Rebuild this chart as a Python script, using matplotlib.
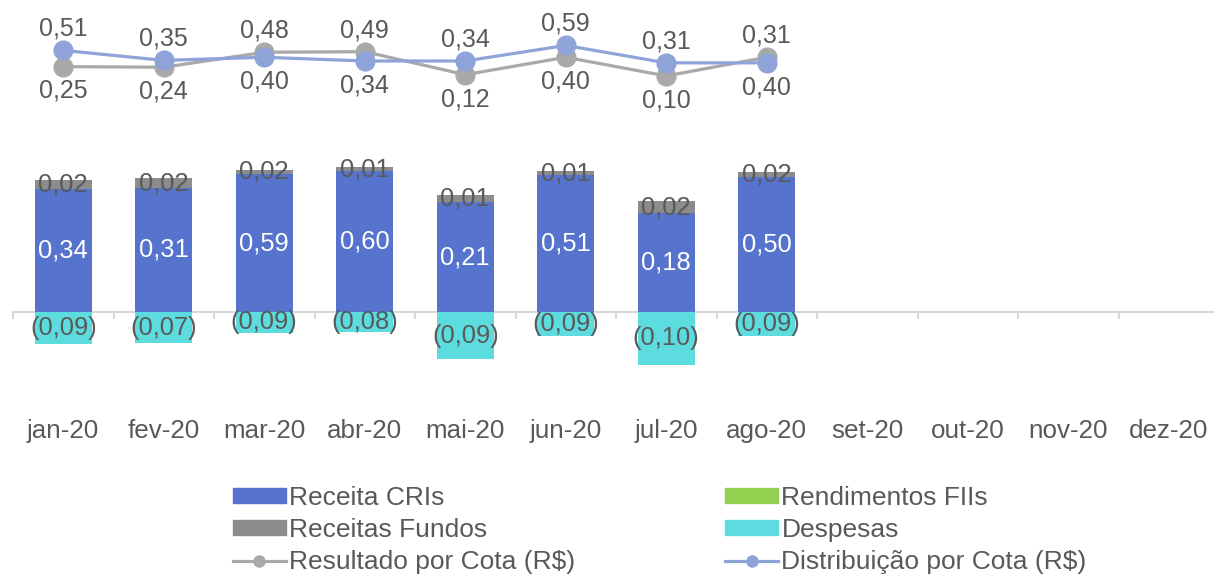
import matplotlib
matplotlib.use("Agg")
import matplotlib.pyplot as plt
from matplotlib.patches import Patch
from matplotlib.lines import Line2D
import numpy as np

plt.rcParams['font.family'] = ['Liberation Sans', 'DejaVu Sans']

# ---------------- data ----------------
meses = ["jan-20", "fev-20", "mar-20", "abr-20", "mai-20", "jun-20",
         "jul-20", "ago-20", "set-20", "out-20", "nov-20", "dez-20"]

# drawn bar heights (as they appear in the picture)
receita_cris = [1.23, 1.24, 1.38, 1.41, 1.10, 1.37, 0.99, 1.35]
receitas_fundos = [0.09, 0.10, 0.04, 0.04, 0.07, 0.04, 0.12, 0.05]
rendimentos_fiis = [0, 0, 0, 0, 0, 0, 0, 0]
despesas = [-0.32, -0.31, -0.21, -0.20, -0.47, -0.24, -0.53, -0.24]

# values printed on the bars
receita_cris_rotulos = [0.34, 0.31, 0.59, 0.60, 0.21, 0.51, 0.18, 0.50]
receitas_fundos_rotulos = [0.02, 0.02, 0.02, 0.01, 0.01, 0.01, 0.02, 0.02]
despesas_rotulos = [-0.09, -0.07, -0.09, -0.08, -0.09, -0.09, -0.10, -0.09]

# lines (R$ per share)
resultado_cota = [0.25, 0.24, 0.48, 0.49, 0.12, 0.40, 0.10, 0.40]
distribuicao_cota = [0.51, 0.35, 0.40, 0.34, 0.34, 0.59, 0.31, 0.31]
resultado_rotulos = [0.25, 0.24, 0.48, 0.49, 0.12, 0.40, 0.10, 0.31]
distribuicao_rotulos = [0.51, 0.35, 0.40, 0.34, 0.34, 0.59, 0.31, 0.40]
resultado_pos = ["b", "b", "a", "a", "b", "b", "b", "a"]
distribuicao_pos = ["a", "a", "b", "b", "a", "a", "a", "b"]

# ---------------- style ----------------
C_CRI = "#5673CD"
C_FUNDOS = "#8C8C8C"
C_FIIS = "#92D050"
C_DESP = "#5CDCDF"
C_RES = "#A9A9A9"
C_DIST = "#8EA3D8"
TXT = "#595959"
AXC = "#D9D9D9"

W, H = 1214, 575
fig = plt.figure(figsize=(W / 100, H / 100), dpi=100)
ax = fig.add_axes([13 / W, (H - 400) / H, 1206 / W, 400 / H])

def fmt(v):
    s = f"{abs(v):.2f}".replace(".", ",")
    return f"({s})" if v < 0 else s

n = len(receita_cris)
x = np.arange(n)
bw = 0.57
ax.bar(x, receita_cris, bw, color=C_CRI, zorder=3)
ax.bar(x, receitas_fundos, bw, bottom=receita_cris, color=C_FUNDOS, zorder=3)
ax.bar(x, rendimentos_fiis, bw, bottom=np.add(receita_cris, receitas_fundos),
       color=C_FIIS, zorder=3)
ax.bar(x, despesas, bw, color=C_DESP, zorder=3)

fs_lab = 18.4
for i in range(n):
    ax.text(x[i], receita_cris[i] / 2, fmt(receita_cris_rotulos[i]),
            ha="center", va="center", color="white", fontsize=fs_lab, zorder=5)
    ax.text(x[i], receita_cris[i] + receitas_fundos[i] / 2, fmt(receitas_fundos_rotulos[i]),
            ha="center", va="center", color=TXT, fontsize=fs_lab, zorder=5)
    ax.text(x[i], despesas[i] / 2, fmt(despesas_rotulos[i]),
            ha="center", va="center", color=TXT, fontsize=fs_lab, zorder=5)

ax.set_xlim(-0.5, 11.5)
ax.set_ylim(-0.88, 3.12)
for s in ["top", "right", "left"]:
    ax.spines[s].set_visible(False)
ax.spines["bottom"].set_position(("data", 0))
ax.spines["bottom"].set_color(AXC)
ax.spines["bottom"].set_linewidth(1.5)
ax.spines["bottom"].set_zorder(1)
ax.set_yticks([])
ax.set_xticks(np.arange(12))
ax.set_xticklabels(meses)
ax.set_xticks(np.arange(-0.5, 12, 1), minor=True)
ax.tick_params(axis="x", which="major", length=0, pad=77, labelsize=18.7, labelcolor=TXT)
ax.tick_params(axis="x", which="minor", length=5, width=1.5, color=AXC, direction="out")

# secondary axis for lines
ax2 = ax.twinx()
ax2.set_ylim(-5.101, 1.319)
ax2.axis("off")
ax2.plot(x, resultado_cota, color=C_RES, lw=2.3, marker="o", ms=13.5, zorder=3)
ax2.plot(x, distribuicao_cota, color=C_DIST, lw=2.3, marker="o", ms=13.5, zorder=4)

fs_line = 18
def lab(vals, labs, pos):
    for i in range(n):
        dy = 15.5 if pos[i] == "a" else -17.5
        ax2.annotate(fmt(labs[i]), (x[i], vals[i]), xytext=(0, dy),
                     textcoords="offset points", ha="center", va="center",
                     color=TXT, fontsize=fs_line, zorder=6)
lab(resultado_cota, resultado_rotulos, resultado_pos)
lab(distribuicao_cota, distribuicao_rotulos, distribuicao_pos)

handles = [
    Patch(color=C_CRI), Patch(color=C_FUNDOS),
    Line2D([0], [0], color=C_RES, lw=2.3, marker="o", ms=8),
    Patch(color=C_FIIS), Patch(color=C_DESP),
    Line2D([0], [0], color=C_DIST, lw=2.3, marker="o", ms=8),
]
labels = ["Receita CRIs", "Receitas Fundos", "Resultado por Cota (R$)",
          "Rendimentos FIIs", "Despesas", "Distribuição por Cota (R$)"]
fig.legend(handles, labels, ncol=2, loc="upper left",
           bbox_to_anchor=(233 / W, 1 - 486 / H), frameon=False,
           borderpad=0, borderaxespad=0, handlelength=2.0, handleheight=0.5,
           handletextpad=0.12, columnspacing=5.7, labelspacing=0.31,
           fontsize=19, labelcolor=TXT)

fig.savefig("out.png", dpi=100)
